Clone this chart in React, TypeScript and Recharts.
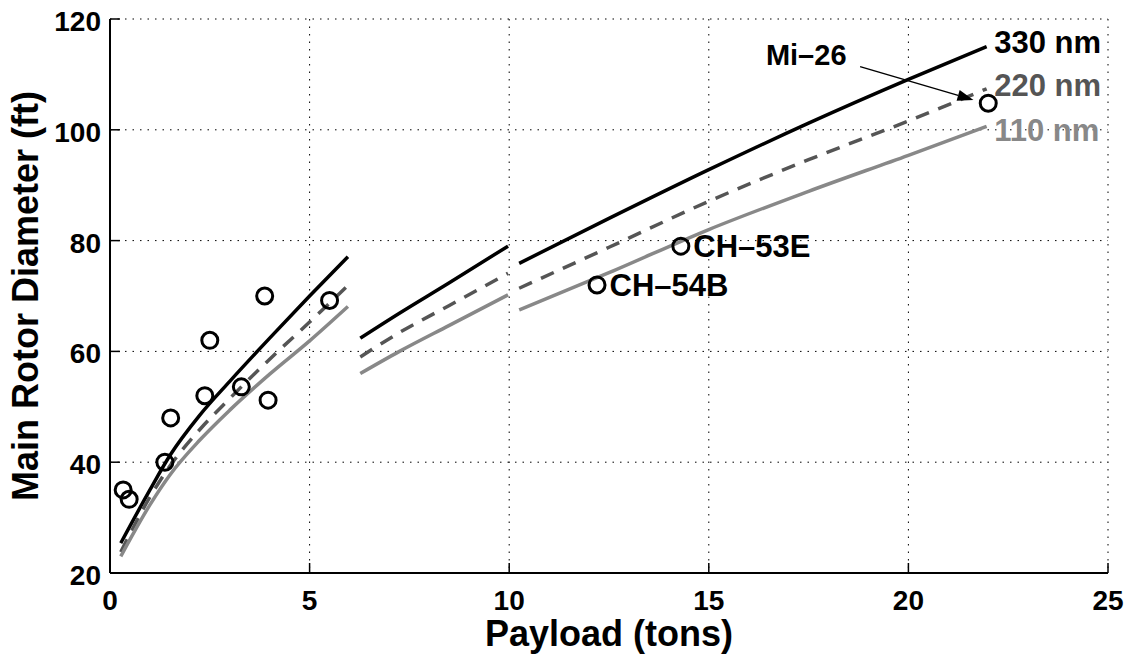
import {
  CartesianGrid,
  ComposedChart,
  Label,
  Line,
  ReferenceLine,
  Scatter,
  XAxis,
  YAxis,
} from "recharts";

const FONT = '"Liberation Sans", Arial, Helvetica, sans-serif';

// ─── Eixos ────────────────────────────────────────────────────────────────────
const xTicks = [0, 5, 10, 15, 20, 25];
const yTicks = [20, 40, 60, 80, 100, 120];

// ─── Curvas (3 trechos, alcance 330 / 220 / 110 nm) ──────────────────────────
const seg1X = [0.27, 1, 1.5, 2.25, 3, 4, 5, 5.96];
const seg1Nm330 = [25.4, 35.0, 41.2, 48.5, 54.6, 62.4, 70.0, 77.1];
const seg1Nm220 = [23.8, 33.7, 39.3, 45.9, 51.5, 58.6, 65.3, 71.9];
const seg1Nm110 = [23.0, 32.3, 37.7, 44.0, 49.4, 55.9, 61.9, 68.1];

const seg2X = [6.27, 7.25, 8.5, 9.97];
const seg2Nm330 = [62.4, 66.9, 72.4, 79.0];
const seg2Nm220 = [59.0, 63.4, 68.3, 74.1];
const seg2Nm110 = [56.0, 60.0, 64.7, 70.2];

const seg3X = [10.25, 12.5, 15, 17.5, 20, 21.96];
const seg3Nm330 = [75.9, 84.0, 92.8, 101.2, 109.1, 115.0];
const seg3Nm220 = [71.4, 78.8, 87.1, 94.6, 101.6, 107.4];
const seg3Nm110 = [67.5, 74.2, 82.0, 88.9, 95.4, 100.6];

// ─── Helicópteros existentes ─────────────────────────────────────────────────
const craftX = [0.33, 0.48, 1.375, 1.52, 2.375, 2.5, 3.29, 3.96, 3.875, 5.5, 22.0];
const craftY = [35.0, 33.3, 40.0, 48.0, 52.0, 62.0, 53.6, 51.2, 70.0, 69.2, 104.8];

const namedNames = ["CH–54B", "CH–53E"];
const namedX = [12.2, 14.3];
const namedY = [72.0, 79.0];

// ─── Anotações ───────────────────────────────────────────────────────────────
const noteText = ["330 nm", "220 nm", "110 nm", "Mi–26"];
const noteX = [22.15, 22.15, 22.15, 18.45];
const noteY = [115.9, 108.2, 100.0, 113.5];
const arrowFrom = { x: 18.79, y: 111.4 };
const arrowTo = { x: 21.63, y: 105.4 };

const COLORS = {
  nm330: "#000000",
  nm220: "#555555",
  nm110: "#888888",
} as const;

const NOTE_STYLE = [
  { fill: COLORS.nm330, anchor: "start", size: 31 },
  { fill: COLORS.nm220, anchor: "start", size: 31 },
  { fill: COLORS.nm110, anchor: "start", size: 31 },
  { fill: "#000000", anchor: "end", size: 29 },
];

function buildSegment(xs: number[], a: number[], b: number[], c: number[]) {
  return xs.map((x, i) => ({ x, nm330: a[i], nm220: b[i], nm110: c[i] }));
}

const segments = [
  buildSegment(seg1X, seg1Nm330, seg1Nm220, seg1Nm110),
  buildSegment(seg2X, seg2Nm330, seg2Nm220, seg2Nm110),
  buildSegment(seg3X, seg3Nm330, seg3Nm220, seg3Nm110),
];

const craftData = craftX.map((x, i) => ({ x, y: craftY[i] }));
const namedData = namedX.map((x, i) => ({ x, y: namedY[i], name: namedNames[i] }));
const noteData = noteX.map((x, i) => ({ x, y: noteY[i], text: noteText[i], idx: i }));

const SERIES = [
  { key: "nm330", color: COLORS.nm330, dash: undefined },
  { key: "nm220", color: COLORS.nm220, dash: "14 10" },
  { key: "nm110", color: COLORS.nm110, dash: undefined },
] as const;

const textStyle = { fontFamily: FONT, fontWeight: 700 } as const;
const TICK_LEN = 10;
const X_MARGIN = 14;
const Y_MARGIN = 9;

// ─── Ticks (para dentro, estilo MATLAB) ──────────────────────────────────────
function BottomTick({ x, y, payload }: any) {
  const axisY = y - X_MARGIN;
  return (
    <g>
      <line x1={x} y1={axisY} x2={x} y2={axisY - TICK_LEN} stroke="#000" strokeWidth={1.5} />
      <text x={x} y={y} dy={23} textAnchor="middle" fontSize={28} fill="#000" {...textStyle}>
        {payload.value}
      </text>
    </g>
  );
}

function TopTick({ x, y }: any) {
  return <line x1={x} y1={y} x2={x} y2={y + TICK_LEN} stroke="#000" strokeWidth={1.5} />;
}

function LeftTick({ x, y, payload }: any) {
  const axisX = x + Y_MARGIN;
  return (
    <g>
      <line x1={axisX} y1={y} x2={axisX + TICK_LEN} y2={y} stroke="#000" strokeWidth={1.5} />
      <text x={x} y={y} dy={12} textAnchor="end" fontSize={28} fill="#000" {...textStyle}>
        {payload.value}
      </text>
    </g>
  );
}

function RightTick({ x, y }: any) {
  return <line x1={x} y1={y} x2={x - TICK_LEN} y2={y} stroke="#000" strokeWidth={1.5} />;
}

// ─── Formas ──────────────────────────────────────────────────────────────────
function Ring({ cx, cy }: any) {
  return <circle cx={cx} cy={cy} r={8} fill="none" stroke="#000" strokeWidth={3} />;
}

function NamedRing({ cx, cy, payload }: any) {
  return (
    <g>
      <circle cx={cx} cy={cy} r={8} fill="none" stroke="#000" strokeWidth={3} />
      <text x={cx + 12.5} y={cy} dy="0.36em" fontSize={31} fill="#000" {...textStyle}>
        {payload.name}
      </text>
    </g>
  );
}

function Note({ cx, cy, payload }: any) {
  const st = NOTE_STYLE[payload.idx];
  return (
    <text
      x={cx}
      y={cy}
      dy="0.36em"
      fontSize={st.size}
      fill={st.fill}
      textAnchor={st.anchor}
      {...textStyle}
    >
      {payload.text}
    </text>
  );
}

function Arrow({ x1, y1, x2, y2 }: any) {
  const ang = Math.atan2(y2 - y1, x2 - x1);
  const len = 16;
  const half = 5.5;
  const bx = x2 - len * Math.cos(ang);
  const by = y2 - len * Math.sin(ang);
  const px = -Math.sin(ang) * half;
  const py = Math.cos(ang) * half;
  return (
    <g>
      <line x1={x1} y1={y1} x2={bx} y2={by} stroke="#000" strokeWidth={1.5} />
      <polygon
        points={`${x2},${y2} ${bx + px},${by + py} ${bx - px},${by - py}`}
        fill="#000"
      />
    </g>
  );
}

function XTitle({ viewBox }: any) {
  const { x, y, width } = viewBox;
  return (
    <text x={x + width / 2} y={y + 73} textAnchor="middle" fontSize={36} fill="#000" {...textStyle}>
      Payload (tons)
    </text>
  );
}

function YTitle({ viewBox }: any) {
  const { x, y, height } = viewBox;
  const tx = x + 38;
  const ty = y + height / 2;
  return (
    <text
      x={tx}
      y={ty}
      transform={`rotate(-90 ${tx} ${ty})`}
      textAnchor="middle"
      fontSize={36}
      fill="#000"
      {...textStyle}
    >
      Main Rotor Diameter (ft)
    </text>
  );
}

const axisLine = { stroke: "#000", strokeWidth: 2 };

// ─── Componente principal ─────────────────────────────────────────────────────
export default function App() {
  return (
    <div style={{ position: "absolute", left: 0, top: 0, background: "#fff" }}>
      <ComposedChart
        width={1135}
        height={660}
        margin={{ top: 19, right: 27, bottom: 0, left: 0 }}
      >
        <CartesianGrid stroke="#000" strokeWidth={1} strokeDasharray="1.5 6" />

        <XAxis
          xAxisId={0}
          dataKey="x"
          type="number"
          domain={[0, 25]}
          ticks={xTicks}
          interval={0}
          allowDataOverflow
          height={87}
          tick={<BottomTick />}
          tickSize={0}
          tickMargin={X_MARGIN}
          axisLine={axisLine}
          tickLine={false}
        >
          <Label content={XTitle} />
        </XAxis>
        <XAxis
          xAxisId="top"
          orientation="top"
          dataKey="x"
          type="number"
          domain={[0, 25]}
          ticks={xTicks}
          interval={0}
          allowDataOverflow
          height={0}
          tick={<TopTick />}
          tickSize={0}
          tickMargin={0}
          axisLine={axisLine}
          tickLine={false}
        />
        <YAxis
          yAxisId={0}
          dataKey="y"
          type="number"
          domain={[20, 120]}
          ticks={yTicks}
          interval={0}
          allowDataOverflow
          width={110}
          tick={<LeftTick />}
          tickSize={0}
          tickMargin={Y_MARGIN}
          axisLine={axisLine}
          tickLine={false}
        >
          <Label content={YTitle} />
        </YAxis>
        <YAxis
          yAxisId="right"
          orientation="right"
          type="number"
          domain={[20, 120]}
          ticks={yTicks}
          interval={0}
          allowDataOverflow
          width={0}
          tick={<RightTick />}
          tickSize={0}
          tickMargin={0}
          axisLine={axisLine}
          tickLine={false}
        />

        {segments.map((seg, si) =>
          SERIES.map((s) => (
            <Line
              key={`${s.key}-${si}`}
              data={seg}
              dataKey={s.key}
              type="monotone"
              stroke={s.color}
              strokeWidth={3.5}
              strokeDasharray={s.dash}
              dot={false}
              activeDot={false}
              isAnimationActive={false}
            />
          ))
        )}

        <Scatter data={craftData} dataKey="y" shape={Ring} isAnimationActive={false} />
        <Scatter data={namedData} dataKey="y" shape={NamedRing} isAnimationActive={false} />
        <Scatter data={noteData} dataKey="y" shape={Note} isAnimationActive={false} />

        <ReferenceLine segment={[arrowFrom, arrowTo]} shape={Arrow} />
      </ComposedChart>
    </div>
  );
}
